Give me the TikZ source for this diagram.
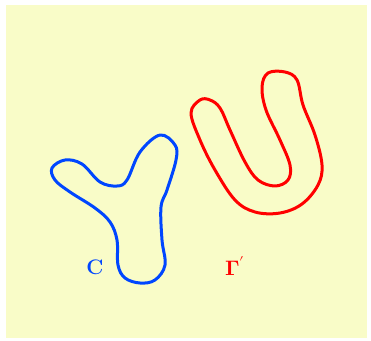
\documentclass[tikz,border=0pt]{standalone}
\usepackage{amsmath}
\usepackage{fontspec}
\usepackage{unicode-math}
\setmathfont{Latin Modern Math}
\definecolor{bgyellow}{RGB}{249,252,200}
\definecolor{cblue}{RGB}{0,70,255}
\definecolor{cred}{RGB}{255,0,0}
\begin{document}
\begin{tikzpicture}[x=1pt,y=-1pt,
  curve/.style={line width=3pt,line join=round},
  lbl/.style={font=\fontsize{21}{24}\selectfont\bfseries,inner sep=0pt}]
\useasboundingbox (0,0) rectangle (371,340);
\fill[bgyellow] (6,5) rectangle (367,338);
% blue Y-shaped curve C
\draw[curve,cblue] plot[smooth cycle,tension=0.6] coordinates {
  (52,168) (65,160) (82,164) (100,182) (117,186) (127,180)
  (140,152) (160,135) (175,145) (176,160) (167,190) (161,207)
  (162,240) (165,265) (155,280) (140,283) (125,278) (118,265)
  (117,240) (110,222) (95,208) (70,192) (55,180)};
% red U-shaped curve Gamma'
\draw[curve,cred] plot[smooth cycle,tension=0.6] coordinates {
  (200,100) (191,113) (200,140) (215,170) (235,200) (255,212)
  (280,213) (302,204) (318,185) (322,165) (315,135) (303,105)
  (297,80) (285,72) (268,73) (262,87) (266,110) (280,140)
  (290,165) (288,180) (275,186) (258,180) (245,162) (230,130)
  (220,108) (210,100)};
\node[lbl,text=cblue] (c) at (95,267.5) {C};
\node[lbl,text=cred,anchor=base west] (g) at (225,275.5) {$\symbf{\Gamma}'$};
\end{tikzpicture}
\end{document}
